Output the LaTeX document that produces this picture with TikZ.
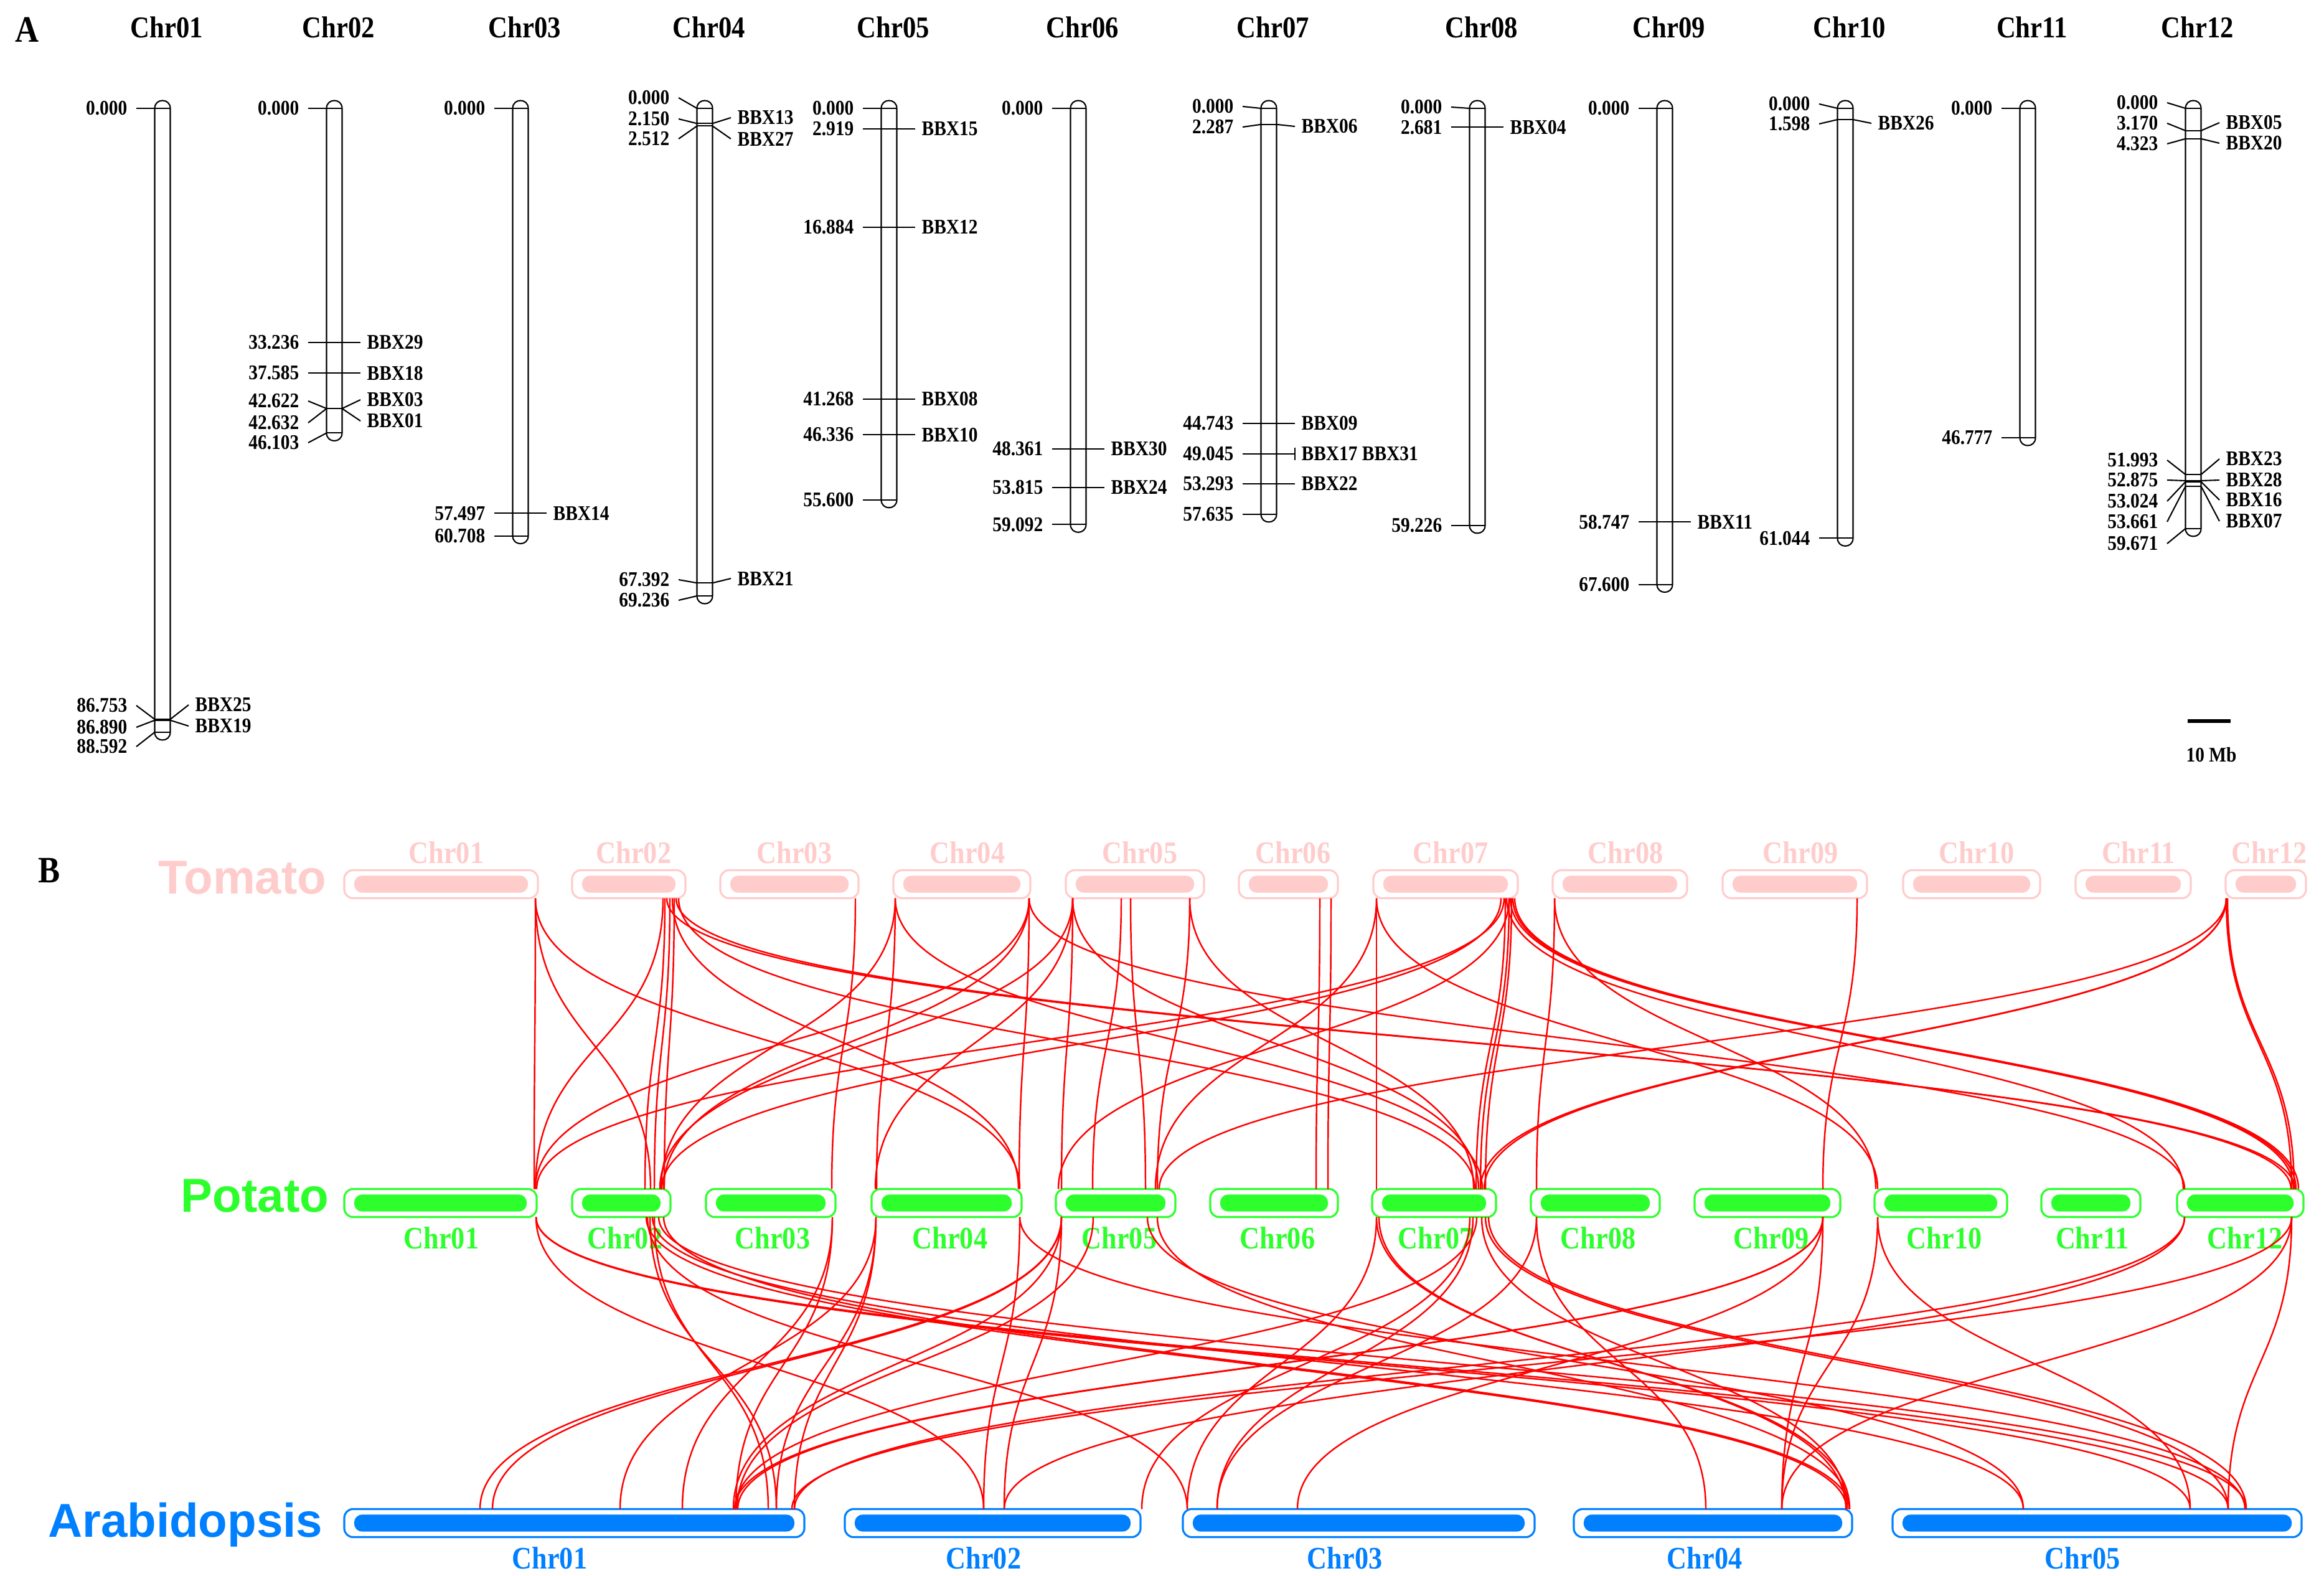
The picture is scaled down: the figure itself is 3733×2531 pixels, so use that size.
\documentclass[tikz,border=0pt]{standalone}
\usepackage{fontspec}
\newfontfamily\tnr{Liberation Serif}[FakeStretch=0.88]
\newfontfamily\arial{Liberation Sans}
\usetikzlibrary{calc}
\definecolor{tomc}{RGB}{255,204,204}
\definecolor{potc}{RGB}{44,255,44}
\definecolor{arac}{RGB}{0,128,255}
\definecolor{lnk}{RGB}{255,0,0}
\newcommand\Y[1]{174+11.31*(#1)}
\tikzset{
 chrline/.style={draw=black, line width=0.6pt},
 numtxt/.style={font=\tnr\bfseries\fontsize{9.5}{10}\selectfont, inner sep=0pt},
 hdr/.style={font=\tnr\bfseries\fontsize{13.8}{15}\selectfont, inner sep=0pt},
 panel/.style={font=\tnr\bfseries\fontsize{17}{18}\selectfont, inner sep=0pt},
 rowname/.style={font=\arial\bfseries\fontsize{21.7}{24}\selectfont, text=#1, inner sep=0pt, anchor=base east},
 chrbox/.style={draw=#1, fill=white, line width=0.9pt, rounded corners=4pt, minimum height=12.8pt, inner sep=0pt, outer sep=0pt,
   path picture={\fill[#1, rounded corners=3.7pt] ([xshift=4.5pt,yshift=2.5pt]path picture bounding box.south west) rectangle ([xshift=-4.5pt,yshift=-2.5pt]path picture bounding box.north east);}},
 blab/.style={font=\tnr\bfseries\fontsize{14.3}{15}\selectfont, text=#1, inner sep=0pt},
 link/.style={draw=lnk, line width=0.7pt},
}
% chromosome of panel A: xc, length (Mb)
\newcommand\chrom[2]{%
 \draw[chrline] (#1-12.5,{\Y{0}}) -- (#1-12.5,{\Y{#2}}) .. controls (#1-12.5,{\Y{#2}+16.7}) and (#1+12.5,{\Y{#2}+16.7}) .. (#1+12.5,{\Y{#2}}) -- (#1+12.5,{\Y{0}}) .. controls (#1+12.5,{\Y{0}-16.7}) and (#1-12.5,{\Y{0}-16.7}) .. cycle;
 \draw[chrline] (#1-12.5,{\Y{0}}) -- (#1+12.5,{\Y{0}}) (#1-12.5,{\Y{#2}}) -- (#1+12.5,{\Y{#2}});}
\newcommand\inl[2]{\draw[chrline] (#1-12.5,{\Y{#2}}) -- (#1+12.5,{\Y{#2}});}
\newcommand\lnum[4]{\draw[chrline] (#1-42,{#3}) -- (#1-12.5,{\Y{#2}}); \node[numtxt,anchor=east] at (#1-56,{#3}) {#4};}
\newcommand\rnam[4]{\draw[chrline] (#1+12.5,{\Y{#2}}) -- (#1+42,{#3}); \node[numtxt,anchor=west] at (#1+52,{#3}) {#4};}
\newcommand\smk[3]{\inl{#1}{#2}\lnum{#1}{#2}{\Y{#2}}{#2}\rnam{#1}{#2}{\Y{#2}}{#3}}
\newcommand\cbox[5]{\node[chrbox=#2, minimum width={(#4-#3)*0.01cm}] (#1) at ({(#3+#4)/2},#5) {};}
\newcommand\tplink[4]{\draw[link] (#2,0 |- #1.south) .. controls (#2,1676) and (#4,1676) .. (#4,0 |- #3.north);}
\newcommand\palink[4]{\draw[link] (#2,0 |- #1.south) .. controls (#2,2190) and (#4,2190) .. (#4,0 |- #3.north);}
\begin{document}
\begin{tikzpicture}[x=0.01cm,y=-0.01cm]
\fill[white] (0,0) rectangle (3733,2531);
\useasboundingbox (0,0) rectangle (3733,2531);
% ---------------- Panel A ----------------
\node[panel] (pA) at (43,48) {A};
\foreach \xc/\nm in {261/01,537/02,836/03,1132/04,1428/05,1732/06,2038/07,2373/08,2674/09,2964/10,3257/11,3523/12}
  \node[hdr] (h\nm) at (\xc+7,44) {Chr\nm};
% Chr01
\chrom{261}{88.592}
\lnum{261}{0}{174}{0.000}
\inl{261}{86.753}\lnum{261}{86.753}{1133}{86.753}\rnam{261}{86.753}{1132}{BBX25}
\inl{261}{86.890}\lnum{261}{86.890}{1168}{86.890}\rnam{261}{86.890}{1166}{BBX19}
\lnum{261}{88.592}{1199}{88.592}
% Chr02
\chrom{537}{46.103}
\lnum{537}{0}{174}{0.000}
\smk{537}{33.236}{BBX29}
\smk{537}{37.585}{BBX18}
\inl{537}{42.622}\lnum{537}{42.622}{644}{42.622}\rnam{537}{42.622}{642}{BBX03}
\inl{537}{42.632}\lnum{537}{42.632}{679}{42.632}\rnam{537}{42.632}{676}{BBX01}
\lnum{537}{46.103}{711}{46.103}
% Chr03
\chrom{836}{60.708}
\lnum{836}{0}{174}{0.000}
\smk{836}{57.497}{BBX14}
\lnum{836}{60.708}{\Y{60.708}}{60.708}
% Chr04
\chrom{1132}{69.236}
\lnum{1132}{0}{157}{0.000}
\inl{1132}{2.150}\lnum{1132}{2.150}{191}{2.150}\rnam{1132}{2.150}{189}{BBX13}
\inl{1132}{2.512}\lnum{1132}{2.512}{223}{2.512}\rnam{1132}{2.512}{223}{BBX27}
\inl{1132}{67.392}\lnum{1132}{67.392}{931}{67.392}\rnam{1132}{67.392}{929}{BBX21}
\lnum{1132}{69.236}{964}{69.236}
% Chr05
\chrom{1428}{55.600}
\lnum{1428}{0}{174}{0.000}
\smk{1428}{2.919}{BBX15}
\smk{1428}{16.884}{BBX12}
\smk{1428}{41.268}{BBX08}
\smk{1428}{46.336}{BBX10}
\lnum{1428}{55.600}{\Y{55.6}}{55.600}
% Chr06
\chrom{1732}{59.092}
\lnum{1732}{0}{174}{0.000}
\smk{1732}{48.361}{BBX30}
\smk{1732}{53.815}{BBX24}
\lnum{1732}{59.092}{\Y{59.092}}{59.092}
% Chr07
\chrom{2038}{57.635}
\lnum{2038}{0}{171}{0.000}
\inl{2038}{2.287}\lnum{2038}{2.287}{204}{2.287}\rnam{2038}{2.287}{203}{BBX06}
\smk{2038}{44.743}{BBX09}
\smk{2038}{49.045}{BBX17 BBX31}
\draw[chrline] (2080,{\Y{49.045}-10}) -- (2080,{\Y{49.045}+10});
\smk{2038}{53.293}{BBX22}
\lnum{2038}{57.635}{\Y{57.635}}{57.635}
% Chr08
\chrom{2373}{59.226}
\lnum{2373}{0}{172}{0.000}
\smk{2373}{2.681}{BBX04}
\lnum{2373}{59.226}{\Y{59.226}}{59.226}
% Chr09
\chrom{2674}{67.600}
\lnum{2674}{0}{174}{0.000}
\smk{2674}{58.747}{BBX11}
\lnum{2674}{67.600}{\Y{67.6}}{67.600}
% Chr10
\chrom{2964}{61.044}
\lnum{2964}{0}{167}{0.000}
\inl{2964}{1.598}\lnum{2964}{1.598}{199}{1.598}\rnam{2964}{1.598}{198}{BBX26}
\lnum{2964}{61.044}{\Y{61.044}}{61.044}
% Chr11
\chrom{3257}{46.777}
\lnum{3257}{0}{174}{0.000}
\lnum{3257}{46.777}{\Y{46.777}}{46.777}
% Chr12
\chrom{3523}{59.671}
\lnum{3523}{0}{165}{0.000}
\inl{3523}{3.170}\lnum{3523}{3.170}{198}{3.170}\rnam{3523}{3.170}{197}{BBX05}
\inl{3523}{4.323}\lnum{3523}{4.323}{231}{4.323}\rnam{3523}{4.323}{230}{BBX20}
\inl{3523}{51.993}\lnum{3523}{51.993}{739}{51.993}\rnam{3523}{51.993}{737}{BBX23}
\inl{3523}{52.875}\lnum{3523}{52.875}{771}{52.875}\rnam{3523}{52.875}{771}{BBX28}
\inl{3523}{53.024}\lnum{3523}{53.024}{805}{53.024}\rnam{3523}{53.024}{803}{BBX16}
\inl{3523}{53.661}\lnum{3523}{53.661}{838}{53.661}\rnam{3523}{53.661}{837}{BBX07}
\lnum{3523}{59.671}{873}{59.671}
% scale bar
\coordinate (sb1) at (3514,1158);
\coordinate (sb2) at (3583,1158);
\draw[line width=1.8pt] (sb1) -- (sb2);
\node[numtxt] (sbl) at (3552,1212) {10 Mb};
% ---------------- Panel B ----------------
\node[panel] (pB) at (79,1398) {B};
\node[rowname=tomc] (nT) at (525,1435) {Tomato};
\node[rowname=potc] (nP) at (529,1946) {Potato};
\node[rowname=arac] (nA) at (519,2468) {Arabidopsis};
% chromosome boxes
\cbox{T01}{tomc}{553}{864}{1420}
\cbox{T02}{tomc}{919}{1101}{1420}
\cbox{T03}{tomc}{1157}{1379}{1420}
\cbox{T04}{tomc}{1435}{1655}{1420}
\cbox{T05}{tomc}{1712}{1934}{1420}
\cbox{T06}{tomc}{1990}{2149}{1420}
\cbox{T07}{tomc}{2206}{2438}{1420}
\cbox{T08}{tomc}{2494}{2710}{1420}
\cbox{T09}{tomc}{2767}{2999}{1420}
\cbox{T10}{tomc}{3057}{3277}{1420}
\cbox{T11}{tomc}{3334}{3519}{1420}
\cbox{T12}{tomc}{3575}{3704}{1420}
\cbox{P01}{potc}{553}{862}{1932}
\cbox{P02}{potc}{919}{1077}{1932}
\cbox{P03}{potc}{1134}{1342}{1932}
\cbox{P04}{potc}{1400}{1641}{1932}
\cbox{P05}{potc}{1696}{1888}{1932}
\cbox{P06}{potc}{1944}{2149}{1932}
\cbox{P07}{potc}{2204}{2403}{1932}
\cbox{P08}{potc}{2459}{2666}{1932}
\cbox{P09}{potc}{2722}{2956}{1932}
\cbox{P10}{potc}{3011}{3224}{1932}
\cbox{P11}{potc}{3279}{3438}{1932}
\cbox{P12}{potc}{3497}{3700}{1932}
\cbox{A01}{arac}{553}{1292}{2446}
\cbox{A02}{arac}{1357}{1832}{2446}
\cbox{A03}{arac}{1900}{2465}{2446}
\cbox{A04}{arac}{2528}{2975}{2446}
\cbox{A05}{arac}{3040}{3697}{2446}
% chromosome labels
\foreach \x/\n in {717/01,1018/02,1276/03,1554/04,1831/05,2077/06,2330/07,2611/08,2892/09,3175/10,3435/11,3645/12}
  \node[blab=tomc] (tl\n) at (\x,1369) {Chr\n};
\foreach \x/\n in {709/01,1004/02,1241/03,1526/04,1798/05,2052/06,2306/07,2567/08,2845/09,3123/10,3361/11,3606/12}
  \node[blab=potc] (pl\n) at (\x,1988) {Chr\n};
\foreach \x/\n in {883/01,1580/02,2160/03,2738/04,3345/05}
  \node[blab=arac] (al\n) at (\x,2502) {Chr\n};
% tomato -> potato links
\tplink{T01}{860}{P01}{858}
\tplink{T01}{860}{P02}{1045}
\tplink{T01}{860}{P04}{1638}
\tplink{T02}{1065}{P01}{860}
\tplink{T02}{1068}{P02}{1036}
\tplink{T02}{1076}{P02}{1051}
\tplink{T02}{1083}{P02}{1067}
\tplink{T02}{1071}{P12}{3686}
\tplink{T02}{1086}{P12}{3680}
\tplink{T02}{1090}{P07}{2369}
\tplink{T02}{1080}{P04}{1636}
\tplink{T03}{1374}{P03}{1336}
\tplink{T04}{1438}{P04}{1408}
\tplink{T04}{1438}{P02}{1062}
\tplink{T04}{1438}{P07}{2381}
\tplink{T04}{1653}{P04}{1637}
\tplink{T04}{1653}{P01}{860}
\tplink{T04}{1653}{P02}{1066}
\tplink{T04}{1653}{P12}{3509}
\tplink{T05}{1723}{P04}{1406}
\tplink{T05}{1723}{P05}{1705}
\tplink{T05}{1723}{P02}{1060}
\tplink{T05}{1723}{P07}{2375}
\tplink{T05}{1801}{P05}{1755}
\tplink{T05}{1816}{P05}{1840}
\tplink{T05}{1911}{P05}{1859}
\tplink{T05}{1911}{P07}{2367}
\tplink{T06}{2120}{P06}{2114}
\tplink{T06}{2138}{P06}{2133}
\tplink{T07}{2211}{P07}{2211}
\tplink{T07}{2211}{P05}{1856}
\tplink{T07}{2211}{P10}{3016}
\tplink{T07}{2418}{P07}{2371}
\tplink{T07}{2424}{P07}{2378}
\tplink{T07}{2428}{P07}{2386}
\tplink{T07}{2416}{P01}{862}
\tplink{T07}{2411}{P02}{1063}
\tplink{T07}{2424}{P05}{1700}
\tplink{T07}{2426}{P12}{3684}
\tplink{T07}{2430}{P12}{3688}
\tplink{T07}{2433}{P12}{3692}
\tplink{T07}{2420}{P12}{3507}
\tplink{T08}{2497}{P08}{2468}
\tplink{T08}{2497}{P10}{3013}
\tplink{T09}{2983}{P09}{2928}
\tplink{T12}{3576}{P12}{3681}
\tplink{T12}{3578}{P12}{3685}
\tplink{T12}{3576}{P07}{2378}
\tplink{T12}{3576}{P07}{2384}
\tplink{T12}{3576}{P05}{1862}
% potato -> arabidopsis links
\palink{P01}{861}{A02}{1580}
\palink{P01}{861}{A05}{3579}
\palink{P01}{861}{A05}{3518}
\palink{P02}{1040}{A03}{1907}
\palink{P02}{1051}{A01}{1234}
\palink{P02}{1044}{A01}{1247}
\palink{P02}{1058}{A05}{3608}
\palink{P02}{1066}{A04}{2971}
\palink{P02}{1038}{A04}{2966}
\palink{P02}{1048}{A05}{3250}
\palink{P03}{1337}{A01}{1182}
\palink{P03}{1337}{A01}{1096}
\palink{P04}{1407}{A01}{1247}
\palink{P04}{1407}{A01}{1276}
\palink{P04}{1407}{A01}{996}
\palink{P04}{1638}{A02}{1580}
\palink{P04}{1638}{A05}{3606}
\palink{P05}{1705}{A01}{771}
\palink{P05}{1705}{A01}{791}
\palink{P05}{1705}{A01}{1178}
\palink{P05}{1705}{A02}{1613}
\palink{P05}{1756}{A01}{1184}
\palink{P05}{1843}{A05}{3250}
\palink{P05}{1859}{A04}{2970}
\palink{P07}{2211}{A03}{1907}
\palink{P07}{2211}{A04}{2971}
\palink{P07}{2215}{A04}{2965}
\palink{P07}{2361}{A02}{1834}
\palink{P07}{2366}{A03}{1955}
\palink{P07}{2372}{A01}{1181}
\palink{P07}{2380}{A04}{2967}
\palink{P07}{2386}{A05}{3579}
\palink{P07}{2391}{A05}{3608}
\palink{P08}{2468}{A04}{2740}
\palink{P08}{2468}{A03}{1955}
\palink{P09}{2928}{A01}{1180}
\palink{P09}{2928}{A01}{1185}
\palink{P09}{2928}{A03}{2084}
\palink{P09}{2928}{A04}{2862}
\palink{P10}{3016}{A05}{3518}
\palink{P10}{3016}{A04}{2862}
\palink{P12}{3509}{A02}{1613}
\palink{P12}{3509}{A01}{1276}
\palink{P12}{3681}{A04}{2862}
\palink{P12}{3681}{A05}{3579}
\palink{P12}{3681}{A01}{1272}
\end{tikzpicture}
\end{document}
